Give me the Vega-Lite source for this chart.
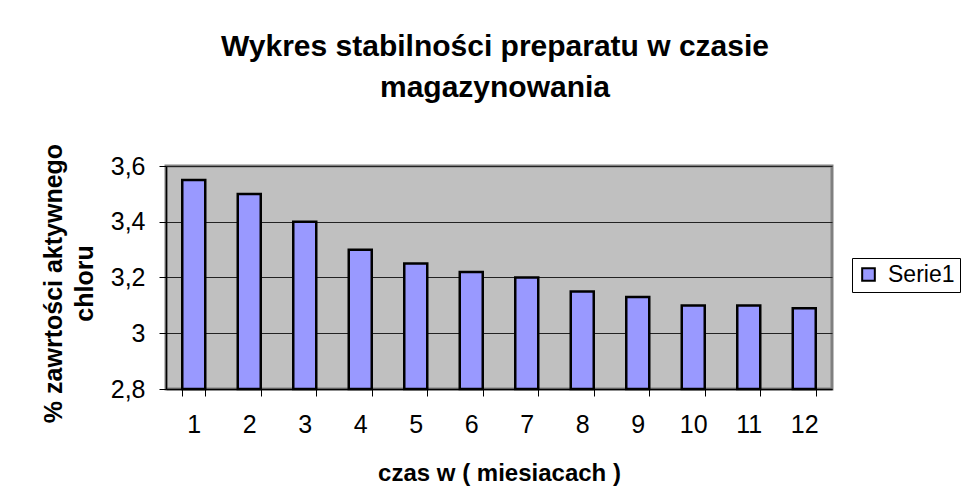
{
  "$schema": "https://vega.github.io/schema/vega-lite/v6.json",
  "autosize": {"type": "none"},
  "width": 666,
  "height": 223,
  "padding": {"left": 166, "top": 166, "right": 129, "bottom": 115},
  "background": "white",
  "config": {
    "locale": {"number": {"decimal": ",", "thousands": " ", "grouping": [3], "currency": ["", " zł"]}},
    "font": "Liberation Sans",
    "view": {"fill": "#C0C0C0", "stroke": "#808080", "strokeWidth": 3}
  },
  "title": {
    "text": ["Wykres stabilności preparatu w czasie", "magazynowania"],
    "font": "Liberation Sans",
    "fontSize": 30,
    "fontWeight": "bold",
    "color": "black",
    "lineHeight": 41,
    "anchor": "middle",
    "frame": "group",
    "dx": -4,
    "offset": 40
  },
  "data": {
    "values": [
      {"miesiac": "1", "wartosc": 3.55, "seria": "Serie1"},
      {"miesiac": "2", "wartosc": 3.5, "seria": "Serie1"},
      {"miesiac": "3", "wartosc": 3.4, "seria": "Serie1"},
      {"miesiac": "4", "wartosc": 3.3, "seria": "Serie1"},
      {"miesiac": "5", "wartosc": 3.25, "seria": "Serie1"},
      {"miesiac": "6", "wartosc": 3.22, "seria": "Serie1"},
      {"miesiac": "7", "wartosc": 3.2, "seria": "Serie1"},
      {"miesiac": "8", "wartosc": 3.15, "seria": "Serie1"},
      {"miesiac": "9", "wartosc": 3.13, "seria": "Serie1"},
      {"miesiac": "10", "wartosc": 3.1, "seria": "Serie1"},
      {"miesiac": "11", "wartosc": 3.1, "seria": "Serie1"},
      {"miesiac": "12", "wartosc": 3.09, "seria": "Serie1"}
    ]
  },
  "mark": {"type": "bar", "stroke": "black", "strokeWidth": 2.5, "width": 23},
  "encoding": {
    "x": {
      "field": "miesiac",
      "type": "ordinal",
      "sort": null,
      "scale": {"paddingInner": 0.58, "paddingOuter": 0.29},
      "axis": {
        "title": "czas w ( miesiacach )",
        "titleFont": "Liberation Sans",
        "titleFontSize": 24,
        "titleFontWeight": "bold",
        "titleColor": "black",
        "titlePadding": 24,
        "labelAngle": 0,
        "labelFont": "Liberation Sans",
        "labelFontSize": 25,
        "labelColor": "black",
        "labelPadding": 16,
        "tickBand": "extent",
        "tickColor": "black",
        "tickSize": 7,
        "domainColor": "black",
        "domainWidth": 1.5,
        "grid": false
      }
    },
    "y": {
      "field": "wartosc",
      "type": "quantitative",
      "scale": {"domain": [2.8, 3.6], "zero": false, "nice": false},
      "axis": {
        "title": ["% zawrtości aktywnego", "chloru"],
        "titleFont": "Liberation Sans",
        "titleFontSize": 25,
        "titleFontWeight": "bold",
        "titleColor": "black",
        "titleLineHeight": 31,
        "titleAngle": -90,
        "titleX": -100,
        "titleY": 117,
        "titleAlign": "center",
        "titleBaseline": "bottom",
        "values": [2.8, 3, 3.2, 3.4, 3.6],
        "format": ".2~g",
        "labelFont": "Liberation Sans",
        "labelFontSize": 25,
        "labelColor": "black",
        "labelPadding": 14,
        "tickColor": "black",
        "tickSize": 7,
        "domainColor": "black",
        "domainWidth": 1.5,
        "grid": true,
        "gridColor": "#222222",
        "gridWidth": 1
      }
    },
    "y2": {"datum": 2.8},
    "fill": {
      "field": "seria",
      "type": "nominal",
      "scale": {"range": ["#9999FF"]},
      "legend": {
        "title": null,
        "orient": "none",
        "legendX": 686,
        "legendY": 92,
        "strokeColor": "black",
        "fillColor": "white",
        "padding": 5,
        "symbolType": "square",
        "symbolSize": 160,
        "symbolStrokeColor": "black",
        "symbolStrokeWidth": 2,
        "labelFont": "Liberation Sans",
        "labelFontSize": 23,
        "labelColor": "black",
        "labelOffset": 8
      }
    }
  }
}
